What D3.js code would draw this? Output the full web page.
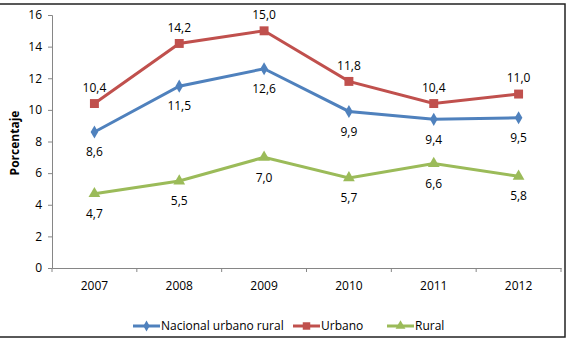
<!DOCTYPE html>
<html>
<head>
<meta charset="utf-8">
<script src="https://cdn.jsdelivr.net/npm/d3@7"></script>
<style>
  body { margin: 0; background: #fff; }
  text { font-family: "Open Sans", "Noto Sans", sans-serif; fill: #000; }
</style>
</head>
<body>
<div id="chart"></div>
<script>
var years = ["2007", "2008", "2009", "2010", "2011", "2012"];
var nacional = [8.6, 11.5, 12.6, 9.9, 9.4, 9.5];
var urbano = [10.4, 14.2, 15.0, 11.8, 10.4, 11.0];
var rural = [4.7, 5.5, 7.0, 5.7, 6.6, 5.8];
var yTicks = [0, 2, 4, 6, 8, 10, 12, 14, 16];

var series = [
    { name: "Nacional urbano rural", values: nacional, color: "#4F81BD", symbol: d3.symbolDiamond, size: 50, labelDy: 20 },
    { name: "Urbano", values: urbano, color: "#C0504D", symbol: d3.symbolSquare, size: 80, labelDy: -16 },
    { name: "Rural", values: rural, color: "#9BBB59", symbol: d3.symbolTriangle, size: 60, labelDy: 20 }
];

var width = 567, height = 340;
var svg = d3.select("#chart").append("svg")
    .attr("width", width)
    .attr("height", height);

// outer frame
svg.append("rect")
    .attr("x", -2).attr("y", 4)
    .attr("width", 567).attr("height", 333)
    .style("fill", "none")
    .style("stroke", "#222")
    .style("stroke-width", 1.5);

var x = d3.scaleBand().domain(years).range([52, 561]);
var y = d3.scaleLinear().domain([0, 16]).range([268, 15]);

var yAxis = svg.append("g")
    .attr("transform", "translate(52,0)")
    .call(d3.axisLeft(y).tickValues(yTicks).tickSize(4).tickPadding(6));

var xAxis = svg.append("g")
    .attr("transform", "translate(0,268)")
    .call(d3.axisBottom(x).tickSize(0).tickPadding(13));

// ticks between categories
xAxis.selectAll(".between")
    .data(years.concat([""]))
    .enter().append("line")
    .attr("x1", function(d, i) { return 52 + i * x.step(); })
    .attr("x2", function(d, i) { return 52 + i * x.step(); })
    .attr("y1", 0).attr("y2", 4)
    .style("stroke", "#868686");

svg.selectAll(".domain").style("stroke", "#868686");
svg.selectAll(".tick line").style("stroke", "#868686");
svg.selectAll(".tick text").style("font-size", "12px").style("fill", "#000");

svg.append("text")
    .attr("transform", "translate(19,143) rotate(-90)")
    .attr("text-anchor", "middle")
    .style("font-size", "12px")
    .style("font-weight", "bold")
    .text("Porcentaje");

var line = d3.line()
    .x(function(d, i) { return x(years[i]) + x.bandwidth() / 2; })
    .y(function(d) { return y(d); });

series.forEach(function(s) {
    var g = svg.append("g");
    g.append("path")
        .attr("d", line(s.values))
        .style("fill", "none")
        .style("stroke", s.color)
        .style("stroke-width", 3);

    g.selectAll(".pt")
        .data(s.values)
        .enter().append("path")
        .attr("d", d3.symbol().type(s.symbol).size(s.size))
        .attr("transform", function(d, i) {
            return "translate(" + (x(years[i]) + x.bandwidth() / 2) + "," + y(d) + ")";
        })
        .style("fill", s.color);

    g.selectAll(".lbl")
        .data(s.values)
        .enter().append("text")
        .attr("x", function(d, i) { return x(years[i]) + x.bandwidth() / 2; })
        .attr("y", function(d) { return y(d) + s.labelDy; })
        .attr("dy", "0.35em")
        .attr("text-anchor", "middle")
        .style("font-size", "12px")
        .text(function(d) { return d.toFixed(1).replace(".", ","); });
});

// legend
var legendX = [133, 293, 387];
var leg = svg.selectAll(".legend")
    .data(series)
    .enter().append("g")
    .attr("transform", function(d, i) { return "translate(" + legendX[i] + ",326)"; });

leg.append("line")
    .attr("x1", 0).attr("x2", 27)
    .style("stroke", function(d) { return d.color; })
    .style("stroke-width", 3);

leg.append("path")
    .attr("d", function(d) { return d3.symbol().type(d.symbol).size(d.size * 0.7)(); })
    .attr("transform", "translate(13.5,0)")
    .style("fill", function(d) { return d.color; });

leg.append("text")
    .attr("x", 28)
    .attr("dy", "0.35em")
    .style("font-size", "12px")
    .text(function(d) { return d.name; });
</script>
</body>
</html>
